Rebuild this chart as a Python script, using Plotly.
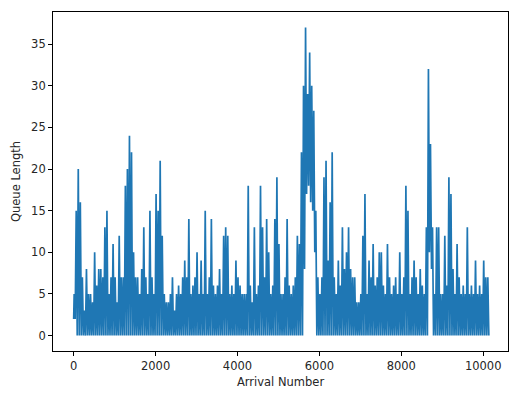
import plotly.graph_objects as go

# Queue length: peak and trough per block of 50 arrivals
bin_size = 50
peaks = [
    5, 15, 20, 16, 7, 3, 8, 5, 5, 4,
    10, 6, 8, 8, 7, 13, 15, 5, 7, 11,
    7, 4, 12, 7, 7, 18, 20, 24, 22, 10,
    7, 7, 5, 8, 13, 7, 5, 15, 7, 5,
    17, 15, 21, 12, 5, 4, 4, 5, 7, 3,
    5, 6, 5, 7, 9, 7, 14, 5, 6, 7,
    10, 5, 9, 5, 15, 5, 7, 14, 6, 5,
    6, 8, 5, 12, 13, 12, 5, 6, 5, 9,
    7, 6, 5, 5, 5, 18, 6, 4, 13, 5,
    6, 18, 13, 7, 14, 10, 5, 6, 14, 19,
    11, 5, 5, 7, 14, 6, 5, 6, 7, 12,
    11, 22, 30, 37, 29, 34, 30, 27, 15, 7,
    5, 7, 19, 21, 9, 16, 22, 7, 5, 9,
    6, 13, 8, 10, 13, 8, 7, 7, 4, 4,
    5, 12, 17, 5, 9, 7, 11, 6, 7, 10,
    10, 6, 5, 11, 7, 5, 6, 7, 5, 10,
    5, 7, 18, 15, 5, 7, 9, 7, 5, 8,
    6, 5, 13, 32, 23, 13, 5, 13, 13, 5,
    5, 12, 6, 19, 17, 8, 5, 11, 7, 5,
    6, 5, 13, 5, 6, 5, 9, 5, 6, 5,
    9, 7, 7,
]
troughs = [0] * len(peaks)
troughs_high = {0: 2, 112: 8, 113: 17, 114: 18, 115: 16, 116: 15, 117: 10,
                173: 10, 174: 8}
for k, v in troughs_high.items():
    troughs[k] = v

x_vals, y_vals = [], []
for k, (p, t) in enumerate(zip(peaks, troughs)):
    if k == 0:
        x_vals.append(0)
        y_vals.append(t)
    x_vals += [k * bin_size + bin_size // 4, k * bin_size + 3 * bin_size // 4]
    y_vals += [p, t]

fig = go.Figure(go.Scatter(x=x_vals, y=y_vals, mode="lines",
                           line=dict(color="#1f77b4", width=1.7),
                           showlegend=False))

font = dict(family="DejaVu Sans", size=11.5, color="#262626")
axis_common = dict(showgrid=False, zeroline=False, showline=True, linecolor="black",
                   linewidth=0.9, mirror=True, ticks="outside", ticklen=4,
                   tickcolor="black", tickwidth=0.9, tickfont=font, automargin=False)
fig.update_layout(
    width=522, height=390,
    margin=dict(l=45, r=22, t=4, b=47),
    paper_bgcolor="white", plot_bgcolor="white",
    font=font,
    xaxis=dict(range=[-505, 10605], tickvals=[0, 2000, 4000, 6000, 8000, 10000],
               ticktext=["0", "2000", "4000", "6000", "8000", "10000"],
               title=dict(text="Arrival Number", font=font, standoff=6), **axis_common),
    yaxis=dict(range=[-1.85, 38.85], tickvals=[0, 5, 10, 15, 20, 25, 30, 35],
               title=dict(text="Queue Length", font=font, standoff=8), **axis_common),
)
fig.write_html("out.html")
